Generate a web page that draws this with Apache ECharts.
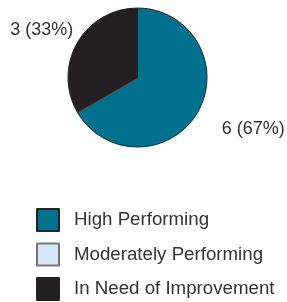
<!DOCTYPE html>
<html>
<head>
<meta charset="utf-8">
<script src="https://cdn.jsdelivr.net/npm/echarts@6/dist/echarts.min.js"></script>
<style>
    html, body { margin: 0; padding: 0; background: #fff; }
    #chart { width: 287px; height: 302px; }
</style>
</head>
<body>
<div id="chart"></div>
<script>
// categories and values
var categories = ["High Performing", "Moderately Performing", "In Need of Improvement"];
var counts = [6, 0, 3];
var colors = ["#00708f", "#d5e6f6", "#231f20"];
var borderColors = ["#222", "#777", "#222"];
// label offsets (labelLine length / length2, line hidden)
var lineLen = [33, 0, 25];
var lineLen2 = [-9.5, 0, -22.5];

var myChart = echarts.init(document.getElementById("chart"));

var seriesData = categories.map(function (name, i) {
    return {
        name: name,
        value: counts[i],
        itemStyle: {
            color: colors[i],
            borderColor: borderColors[i],
            borderWidth: 1
        },
        label: { show: counts[i] > 0 },
        labelLine: { show: false, length: lineLen[i], length2: lineLen2[i] }
    };
});

var option = {
    animation: false,
    legend: {
        orient: "vertical",
        left: 36,
        top: 208,
        height: 120,
        padding: 0,
        itemWidth: 22,
        itemHeight: 22,
        itemGap: 10.5,
        icon: "rect",
        selectedMode: false,
        textStyle: {
            color: "#333",
            fontSize: 18.7,
            lineHeight: 22,
            fontFamily: "Liberation Sans, Arial, sans-serif",
            padding: [0, 0, 0, 10]
        },
        data: categories
    },
    series: [
        {
            type: "pie",
            center: [137.5, 77.5],
            radius: 69.5,
            startAngle: 90,
            clockwise: true,
            avoidLabelOverlap: false,
            label: {
                position: "outside",
                bleedMargin: 0,
                distanceToLabelLine: 5,
                color: "#333",
                fontSize: 18,
                fontFamily: "Liberation Sans, Arial, sans-serif",
                formatter: function (p) {
                    return p.value + " (" + Math.round(p.percent) + "%)";
                }
            },
            emphasis: { disabled: true },
            data: seriesData
        }
    ]
};

myChart.setOption(option);
</script>
</body>
</html>
